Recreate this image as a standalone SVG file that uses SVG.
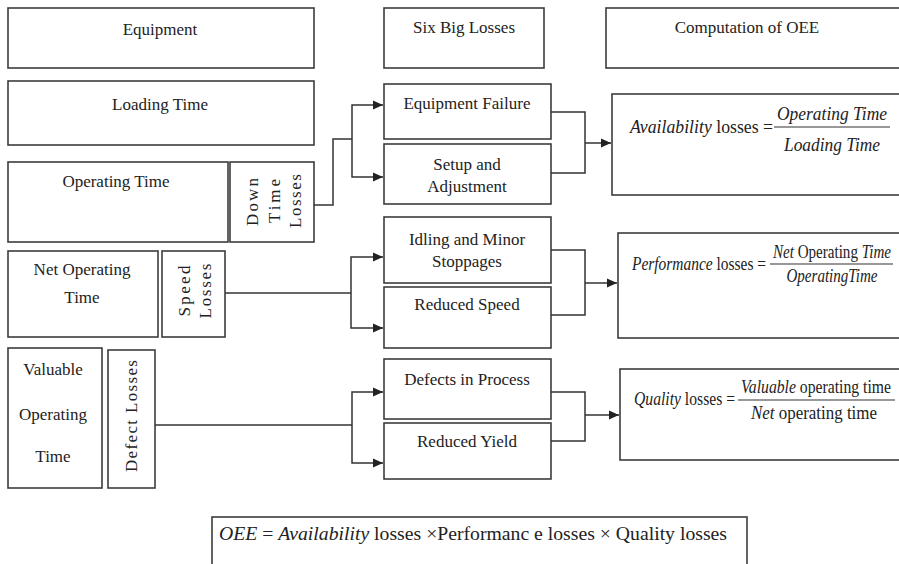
<svg xmlns="http://www.w3.org/2000/svg" width="899" height="564" viewBox="0 0 899 564">
<defs>
<style>
.box{fill:#fff;stroke:#3c3c3c;stroke-width:1.6}
.t{font-family:"Liberation Serif","Times New Roman",serif;font-size:17px;fill:#222;text-anchor:middle}
.f{font-family:"Liberation Serif","Times New Roman",serif;font-size:18px;fill:#222}
.i{font-style:italic}
.c{fill:none;stroke:#333;stroke-width:1.5}
.bar{stroke:#333;stroke-width:1.2}
</style>
<marker id="ah" viewBox="0 0 10 10" refX="10" refY="5" markerWidth="10" markerHeight="10" markerUnits="userSpaceOnUse" orient="auto">
<path d="M0,0.5 L10,5 L0,9.5 Z" fill="#222"/>
</marker>
</defs>
<rect width="899" height="564" fill="#fff"/>

<g id="equipment"><rect class="box" x="8" y="8" width="306" height="60"/><text class="t" x="160" y="35">Equipment</text></g>
<g id="loading-time"><rect class="box" x="8" y="81" width="306" height="64"/><text class="t" x="160" y="110">Loading Time</text></g>
<g id="operating-time"><rect class="box" x="8" y="162" width="220" height="80"/><text class="t" x="116" y="187">Operating Time</text></g>
<g id="down-time-losses"><rect class="box" x="230" y="162" width="84" height="80"/>
<text class="t" transform="translate(258,202) rotate(-90)" textLength="48" lengthAdjust="spacing">Down</text>
<text class="t" transform="translate(280,201) rotate(-90)" textLength="44" lengthAdjust="spacing">Time</text>
<text class="t" transform="translate(301,201) rotate(-90)" textLength="54" lengthAdjust="spacing">Losses</text></g>
<g id="net-operating-time"><rect class="box" x="8" y="251" width="150" height="86"/><text class="t" x="82" y="275">Net Operating</text><text class="t" x="82" y="303">Time</text></g>
<g id="speed-losses"><rect class="box" x="162" y="251" width="63" height="86"/>
<text class="t" transform="translate(190,291) rotate(-90)" textLength="51" lengthAdjust="spacing">Speed</text>
<text class="t" transform="translate(211,291) rotate(-90)" textLength="55" lengthAdjust="spacing">Losses</text></g>
<g id="valuable-operating-time"><rect class="box" x="8" y="348" width="94" height="140"/><text class="t" x="53" y="375">Valuable</text><text class="t" x="53" y="420">Operating</text><text class="t" x="53" y="462">Time</text></g>
<g id="defect-losses"><rect class="box" x="108" y="350" width="47" height="138"/>
<text class="t" transform="translate(137,416) rotate(-90)" textLength="112" lengthAdjust="spacing">Defect Losses</text></g>

<g id="six-big-losses"><rect class="box" x="384" y="8" width="160" height="60"/><text class="t" x="464" y="33">Six Big Losses</text></g>
<g id="equipment-failure"><rect class="box" x="384" y="84" width="167" height="55"/><text class="t" x="467" y="109">Equipment Failure</text></g>
<g id="setup-adjustment"><rect class="box" x="384" y="144" width="167" height="60"/><text class="t" x="467" y="170">Setup and</text><text class="t" x="467" y="192">Adjustment</text></g>
<g id="idling-minor-stoppages"><rect class="box" x="384" y="217" width="167" height="66"/><text class="t" x="467" y="245">Idling and Minor</text><text class="t" x="467" y="267">Stoppages</text></g>
<g id="reduced-speed"><rect class="box" x="384" y="287" width="167" height="61"/><text class="t" x="467" y="310">Reduced Speed</text></g>
<g id="defects-in-process"><rect class="box" x="384" y="359" width="167" height="60"/><text class="t" x="467" y="385">Defects in Process</text></g>
<g id="reduced-yield"><rect class="box" x="384" y="423" width="167" height="56"/><text class="t" x="467" y="447">Reduced Yield</text></g>

<g id="computation-of-oee"><rect class="box" x="606" y="8" width="296" height="60"/><text class="t" x="747" y="33">Computation of OEE</text></g>
<g id="availability"><rect class="box" x="612" y="94" width="290" height="101"/>
<text class="f" x="630" y="133" textLength="143" lengthAdjust="spacingAndGlyphs"><tspan class="i">Availability</tspan> losses =</text>
<text class="f i" x="832" y="120" text-anchor="middle" textLength="110" lengthAdjust="spacingAndGlyphs">Operating Time</text>
<line class="bar" x1="774" y1="127" x2="890" y2="127"/>
<text class="f i" x="832" y="151" text-anchor="middle" textLength="96" lengthAdjust="spacingAndGlyphs">Loading Time</text></g>
<g id="performance"><rect class="box" x="618" y="233" width="284" height="105"/>
<text class="f" x="632" y="270" font-size="16" textLength="134" lengthAdjust="spacingAndGlyphs"><tspan class="i">Performance</tspan> losses =</text>
<text class="f" x="832" y="258" font-size="16" text-anchor="middle" textLength="118" lengthAdjust="spacingAndGlyphs"><tspan class="i">Net</tspan> Operating <tspan class="i">Time</tspan></text>
<line class="bar" x1="770" y1="264" x2="893" y2="264"/>
<text class="f i" x="832" y="282" font-size="16" text-anchor="middle" textLength="91" lengthAdjust="spacingAndGlyphs">OperatingTime</text></g>
<g id="quality"><rect class="box" x="620" y="369" width="282" height="91"/>
<text class="f" x="634" y="405" font-size="16" textLength="101" lengthAdjust="spacingAndGlyphs"><tspan class="i">Quality</tspan> losses =</text>
<text class="f" x="816" y="393" font-size="16" text-anchor="middle" textLength="150" lengthAdjust="spacingAndGlyphs"><tspan class="i">Valuable</tspan> operating time</text>
<line class="bar" x1="738" y1="400" x2="895" y2="400"/>
<text class="f" x="814" y="419" font-size="16" text-anchor="middle" textLength="126" lengthAdjust="spacingAndGlyphs"><tspan class="i">Net</tspan> operating time</text></g>

<g id="oee-formula"><rect class="box" x="212" y="517" width="535" height="60"/>
<text class="f" x="219" y="540" font-size="19" textLength="508" lengthAdjust="spacingAndGlyphs"><tspan class="i">OEE</tspan> = <tspan class="i">Availability</tspan> losses ×Performanc e losses × Quality  losses</text></g>

<g id="connectors">
<path class="c" d="M314,205 H333 V139 H352"/>
<path class="c" d="M352,139 V105 H383" marker-end="url(#ah)"/>
<path class="c" d="M352,139 V177 H383" marker-end="url(#ah)"/>
<path class="c" d="M225,293 H351"/>
<path class="c" d="M351,293 V257 H383" marker-end="url(#ah)"/>
<path class="c" d="M351,293 V328 H383" marker-end="url(#ah)"/>
<path class="c" d="M155,425 H352"/>
<path class="c" d="M352,425 V392 H383" marker-end="url(#ah)"/>
<path class="c" d="M352,425 V463 H383" marker-end="url(#ah)"/>
<path class="c" d="M551,112 H585 V173 H551"/>
<path class="c" d="M585,143 H611" marker-end="url(#ah)"/>
<path class="c" d="M551,250 H585 V315 H551"/>
<path class="c" d="M585,283 H617" marker-end="url(#ah)"/>
<path class="c" d="M551,392 H585 V441 H551"/>
<path class="c" d="M585,415 H619" marker-end="url(#ah)"/>
</g>
</svg>
